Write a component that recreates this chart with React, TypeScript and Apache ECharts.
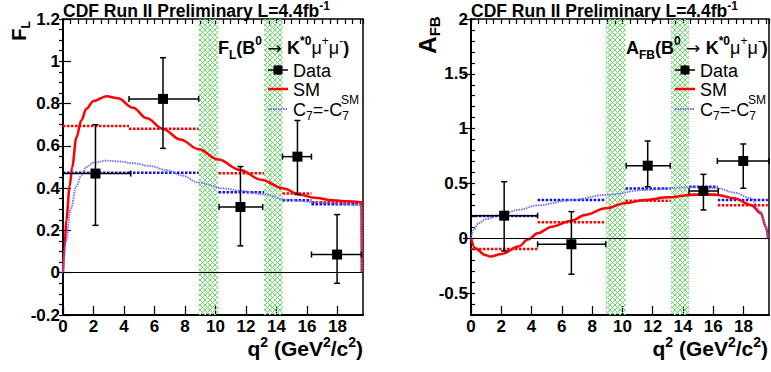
import React, { useEffect, useRef } from 'react';
import * as echarts from 'echarts';

const FONT = '"Liberation Sans", Arial, Helvetica, sans-serif';
const SYM_FONT = '"DejaVu Sans", "Liberation Sans", sans-serif';

// axis ranges
const xRange = [0, 19.68];
const flRange = [-0.2, 1.2];
const afbRange = [-0.7, 2];
const afbMajorTicks = [-0.5, 0, 0.5, 1, 1.5, 2];

// vetoed charmonium regions (hatched)
const vetoLo = [8.9, 13.2];
const vetoHi = [10.2, 14.4];

// ---- F_L panel ----
const flX = [2.13, 6.56, 11.64, 15.38, 17.98];
const flY = [0.469, 0.822, 0.311, 0.549, 0.086];
const flXLo = [0, 4.33, 10.24, 14.4, 16.3];
const flXHi = [4.44, 8.9, 13.1, 16.3, 19.58];
const flYLo = [0.224, 0.588, 0.127, 0.37, -0.05];
const flYHi = [0.7, 1.017, 0.502, 0.72, 0.275];

const flBinLo = [0, 4.33, 10.2, 14.4, 16.3];
const flBinHi = [4.33, 8.9, 13.2, 16.3, 19.6];
const flSmBin = [0.694, 0.681, 0.47, 0.375, 0.333];
const flC7Bin = [0.473, 0.473, 0.381, 0.343, 0.324];

const flSmCurve = [
  [0, 0], [0.1, 0.12], [0.22, 0.25], [0.44, 0.41], [0.6, 0.5], [0.88, 0.64], [1.2, 0.72],
  [1.53, 0.775], [2.0, 0.812], [2.85, 0.835], [3.6, 0.825], [4.6, 0.78], [5.5, 0.73],
  [6.56, 0.68], [7.7, 0.63], [8.9, 0.584], [10.2, 0.535], [11.6, 0.486], [13.0, 0.44],
  [14.47, 0.398], [15.5, 0.37], [16.5, 0.355], [17.7, 0.343], [18.6, 0.338], [19.4, 0.335],
  [19.58, 0.33], [19.6, 0],
];
const flC7Curve = [
  [0, 0], [0.2, 0.15], [0.5, 0.3], [0.88, 0.41], [1.2, 0.46], [1.53, 0.5], [2.0, 0.52],
  [2.85, 0.53], [3.6, 0.527], [4.6, 0.518], [5.7, 0.505], [6.8, 0.485], [7.8, 0.46],
  [8.9, 0.426], [10.6, 0.398], [11.6, 0.388], [13.3, 0.37], [14.5, 0.346], [16.6, 0.333],
  [18.0, 0.327], [19.4, 0.322], [19.58, 0.32], [19.6, 0],
];

// ---- A_FB panel ----
const afbX = [2.19, 6.63, 11.67, 15.35, 17.98];
const afbY = [0.206, -0.055, 0.662, 0.431, 0.705];
const afbXLo = [0, 4.4, 10.25, 14.4, 16.27];
const afbXHi = [4.4, 8.9, 13.16, 16.33, 19.68];
const afbYLo = [-0.116, -0.328, 0.47, 0.258, 0.456];
const afbYHi = [0.516, 0.243, 0.887, 0.583, 0.86];

const afbBinLo = [0, 4.4, 10.2, 14.4, 16.3];
const afbBinHi = [4.4, 8.9, 13.2, 16.3, 19.6];
const afbSmBin = [-0.098, 0.146, 0.343, 0.4, 0.3];
const afbC7Bin = [0.203, 0.349, 0.455, 0.47, 0.349];

const afbSmCurve = [
  [0, 0], [0.28, -0.09], [0.94, -0.152], [1.27, -0.167], [2.04, -0.143], [3.13, -0.076],
  [3.79, -0.01], [4.4, 0.045], [5.33, 0.106], [6.64, 0.16], [7.52, 0.212], [8.9, 0.273],
  [10.15, 0.319], [11.47, 0.349], [13.0, 0.373], [14.54, 0.395], [15.37, 0.398],
  [16.29, 0.395], [17.39, 0.365], [18.49, 0.304], [19.14, 0.228], [19.47, 0.106], [19.62, 0],
];
const afbC7Curve = [
  [0, 0], [0.17, 0.076], [0.5, 0.137], [0.94, 0.173], [2.04, 0.215], [3.13, 0.26], [4.4, 0.3],
  [6.64, 0.349], [8.9, 0.395], [11.47, 0.44], [14.3, 0.465], [16.29, 0.456], [17.39, 0.416],
  [18.49, 0.365], [19.14, 0.243], [19.47, 0.106], [19.62, 0],
];

const RED = '#ff0000';
const BLUE_BIN = '#1010ee';
const BLUE_CURVE = '#6a6aff';
const HATCH = '#66d966';

function hatchItem(params: any, api: any) {
  const a = api.coord([api.value(0), api.value(3)]);
  const b = api.coord([api.value(1), api.value(2)]);
  const x0 = a[0], x1 = b[0], y0 = a[1], y1 = b[1];
  const p = 5;
  const children: any[] = [];
  const style = { stroke: HATCH, lineWidth: 1 };
  for (let c = Math.floor((x0 + y0) / p) * p; c <= x1 + y1; c += p) {
    const xa = Math.max(x0, c - y1), xb = Math.min(x1, c - y0);
    if (xb > xa) children.push({ type: 'line', shape: { x1: xa, y1: c - xa, x2: xb, y2: c - xb }, style });
  }
  for (let d = Math.floor((x0 - y1) / p) * p; d <= x1 - y0; d += p) {
    const xa = Math.max(x0, d + y0), xb = Math.min(x1, d + y1);
    if (xb > xa) children.push({ type: 'line', shape: { x1: xa, y1: xa - d, x2: xb, y2: xb - d }, style });
  }
  return { type: 'group', children };
}

function binItem(color: string) {
  return (params: any, api: any) => {
    const a = api.coord([api.value(0), api.value(2)]);
    const b = api.coord([api.value(1), api.value(2)]);
    return {
      type: 'line',
      shape: { x1: a[0], y1: a[1], x2: b[0], y2: b[1] },
      style: { stroke: color, lineWidth: 2.5, lineDash: [2.5, 1.5] },
    };
  };
}

function errItem(params: any, api: any) {
  const x = api.value(0), y = api.value(1);
  const c = api.coord([x, y]);
  const l = api.coord([api.value(2), y]);
  const r = api.coord([api.value(3), y]);
  const t = api.coord([x, api.value(5)]);
  const bt = api.coord([x, api.value(4)]);
  const st = { stroke: '#000', lineWidth: 1.5 };
  const cap = 3;
  return {
    type: 'group',
    children: [
      { type: 'line', shape: { x1: l[0], y1: c[1], x2: r[0], y2: c[1] }, style: st },
      { type: 'line', shape: { x1: c[0], y1: t[1], x2: c[0], y2: bt[1] }, style: st },
      { type: 'line', shape: { x1: l[0], y1: c[1] - cap, x2: l[0], y2: c[1] + cap }, style: st },
      { type: 'line', shape: { x1: r[0], y1: c[1] - cap, x2: r[0], y2: c[1] + cap }, style: st },
      { type: 'line', shape: { x1: c[0] - cap, y1: t[1], x2: c[0] + cap, y2: t[1] }, style: st },
      { type: 'line', shape: { x1: c[0] - cap, y1: bt[1], x2: c[0] + cap, y2: bt[1] }, style: st },
    ],
  };
}

function xAxis(gi: number, major: boolean) {
  return {
    type: 'value', gridIndex: gi, min: xRange[0], max: xRange[1], interval: major ? 2 : 0.5,
    axisLine: { show: major, onZero: false, lineStyle: { color: '#000', width: 2 } },
    axisTick: { show: true, inside: true, length: major ? 9 : 5, lineStyle: { color: '#000', width: 1.2 } },
    axisLabel: major
      ? { show: true, fontFamily: FONT, fontWeight: 'bold', fontSize: 17, color: '#000', margin: 3, showMaxLabel: false }
      : { show: false },
    splitLine: { show: false },
  };
}

const rangeOf = (r: number[]) => ({ min: r[0], max: r[1] });

function buildOption() {
  const panels = [
    {
      x: flX, y: flY, xlo: flXLo, xhi: flXHi, ylo: flYLo, yhi: flYHi,
      binLo: flBinLo, binHi: flBinHi, sm: flSmBin, c7: flC7Bin,
      smCurve: flSmCurve, c7Curve: flC7Curve, range: flRange, xi: 0, yi: 0,
    },
    {
      x: afbX, y: afbY, xlo: afbXLo, xhi: afbXHi, ylo: afbYLo, yhi: afbYHi,
      binLo: afbBinLo, binHi: afbBinHi, sm: afbSmBin, c7: afbC7Bin,
      smCurve: afbSmCurve, c7Curve: afbC7Curve, range: afbRange, xi: 2, yi: 2,
    },
  ];

  const series: any[] = [];
  panels.forEach((p, pi) => {
    const base = { xAxisIndex: p.xi, yAxisIndex: p.yi };
    series.push({
      ...base, type: 'custom', name: 'veto' + pi, z: 1, silent: true,
      renderItem: hatchItem,
      data: vetoLo.map((lo, i) => [lo, vetoHi[i], p.range[0], p.range[1]]),
      markLine: {
        silent: true, symbol: 'none', label: { show: false },
        lineStyle: { color: '#000', width: 1.2, type: 'solid' },
        data: [{ yAxis: 0 }],
      },
    });
    series.push({
      ...base, type: 'custom', name: 'smBin' + pi, z: 3, silent: true, renderItem: binItem(RED),
      data: p.binLo.map((lo, i) => [lo, p.binHi[i], p.sm[i]]),
    });
    series.push({
      ...base, type: 'custom', name: 'c7Bin' + pi, z: 3, silent: true, renderItem: binItem(BLUE_BIN),
      data: p.binLo.map((lo, i) => [lo, p.binHi[i], p.c7[i]]),
    });
    series.push({
      ...base, type: 'line', name: 'SM' + pi, z: 4, showSymbol: false, smooth: 0.35, smoothMonotone: 'x',
      lineStyle: { color: RED, width: 2.5 }, data: p.smCurve,
    });
    series.push({
      ...base, type: 'line', name: 'C7' + pi, z: 4, showSymbol: false, smooth: 0.35, smoothMonotone: 'x',
      lineStyle: { color: BLUE_CURVE, width: 1.8, type: [1.5, 1] }, data: p.c7Curve,
    });
    series.push({
      ...base, type: 'custom', name: 'err' + pi, z: 5, silent: true, renderItem: errItem,
      data: p.x.map((x, i) => [x, p.y[i], p.xlo[i], p.xhi[i], p.ylo[i], p.yhi[i]]),
    });
    series.push({
      ...base, type: 'scatter', name: 'Data' + pi, z: 6, symbol: 'rect', symbolSize: 10,
      itemStyle: { color: '#000', opacity: 1 }, data: p.x.map((x, i) => [x, p.y[i]]),
    });
  });

  const tb = { fontFamily: FONT, fontWeight: 'bold', fill: '#000' };
  const tn = { fontFamily: FONT, fontWeight: 'normal', fill: '#000' };

  const topTitle = (x: number) => ({
    type: 'text', x, y: 11, z: 100,
    style: {
      text: '{m|CDF Run II Preliminary L=4.4fb}{p|-1}',
      align: 'left', verticalAlign: 'middle',
      rich: {
        m: { ...tb, fontSize: 17.5, lineHeight: 22 },
        p: { ...tb, fontSize: 12, lineHeight: 14, verticalAlign: 'top' },
      },
    },
  });

  const procRich = {
    b: { ...tb, fontSize: 18, lineHeight: 26 },
    s: { ...tn, fontSize: 18, lineHeight: 26 },
    ar: { fontFamily: SYM_FONT, fontWeight: 'normal', fill: '#000', fontSize: 17, lineHeight: 26 },
    bp: { ...tb, fontSize: 12, lineHeight: 14, verticalAlign: 'top' },
    sp: { ...tn, fontSize: 12, lineHeight: 14, verticalAlign: 'top' },
    bs: { ...tb, fontSize: 12, lineHeight: 8, verticalAlign: 'bottom' },
  };
  const proc = (x: number, name: string) => ({
    type: 'text', x, y: 48, z: 100,
    style: {
      text: name + '{b|(B}{bp|0}{ar| → }{b|K}{bp|*0}{s|μ}{sp|+}{s|μ}{sp|-}{b|)}',
      align: 'left', verticalAlign: 'middle', rich: procRich,
    },
  });

  const legend = (x0: number) => {
    const xm = x0 + 10;
    const tx = x0 + 25;
    return [
      { type: 'line', z: 100, shape: { x1: x0, y1: 70, x2: x0 + 20, y2: 70 }, style: { stroke: '#000', lineWidth: 1.5 } },
      { type: 'line', z: 100, shape: { x1: xm, y1: 65, x2: xm, y2: 75 }, style: { stroke: '#000', lineWidth: 1.5 } },
      { type: 'rect', z: 100, shape: { x: xm - 4.5, y: 65.5, width: 9, height: 9 }, style: { fill: '#000' } },
      { type: 'text', z: 100, x: tx, y: 71, style: { text: 'Data', ...tn, fontSize: 18, align: 'left', verticalAlign: 'middle' } },
      { type: 'line', z: 100, shape: { x1: x0, y1: 89, x2: x0 + 20, y2: 89 }, style: { stroke: RED, lineWidth: 2.5 } },
      { type: 'text', z: 100, x: tx, y: 90, style: { text: 'SM', ...tn, fontSize: 18, align: 'left', verticalAlign: 'middle' } },
      { type: 'line', z: 100, shape: { x1: x0, y1: 109, x2: x0 + 20, y2: 109 }, style: { stroke: BLUE_CURVE, lineWidth: 2, lineDash: [1.5, 1] } },
      {
        type: 'text', z: 100, x: tx, y: 110,
        style: {
          text: '{n|C}{d|7}{n|=-C}{d|7}', align: 'left', verticalAlign: 'middle',
          rich: {
            n: { ...tn, fontSize: 18, lineHeight: 24 },
            d: { ...tn, fontSize: 12, lineHeight: 8, verticalAlign: 'bottom' },
          },
        },
      },
    ];
  };

  const yTitle = (x: number, y: number, main: string, sub: string, size: number) => ({
    type: 'text', x, y, z: 100, rotation: Math.PI / 2,
    style: {
      text: '{a|' + main + '}{b|' + sub + '}', align: 'center', verticalAlign: 'middle',
      rich: {
        a: { ...tb, fontSize: size, lineHeight: size + 6 },
        b: { ...tb, fontSize: Math.round(size * 0.62), lineHeight: 8, verticalAlign: 'bottom' },
      },
    },
  });

  const xTitle = (x: number) => ({
    type: 'text', x, y: 348, z: 100,
    style: {
      text: '{a|q}{p|2}{a| (GeV}{p|2}{a|/c}{p|2}{a|)}', align: 'right', verticalAlign: 'middle',
      rich: {
        a: { ...tb, fontSize: 21, lineHeight: 26 },
        p: { ...tb, fontSize: 14, lineHeight: 15, verticalAlign: 'top' },
      },
    },
  });

  const smSup = (x: number) => ({
    type: 'text', x, y: 100, z: 100,
    style: { text: 'SM', ...tn, fontSize: 12, align: 'left', verticalAlign: 'middle' },
  });

  return {
    animation: false,
    backgroundColor: '#fff',
    grid: [
      { left: 63, top: 19, width: 300, height: 296, show: true, borderColor: '#000', borderWidth: 1.5, backgroundColor: 'transparent' },
      { left: 471, top: 19, width: 298, height: 296, show: true, borderColor: '#000', borderWidth: 1.5, backgroundColor: 'transparent' },
    ],
    xAxis: [xAxis(0, true), xAxis(0, false), xAxis(1, true), xAxis(1, false)],
    yAxis: [
      {
        type: 'value', gridIndex: 0, ...rangeOf(flRange), interval: 0.2,
        axisLine: { show: true, onZero: false, lineStyle: { color: '#000', width: 2 } },
        axisTick: { show: true, inside: true, length: 8, lineStyle: { color: '#000', width: 1.2 } },
        axisLabel: { show: true, fontFamily: FONT, fontWeight: 'bold', fontSize: 17, color: '#000', margin: 3 },
        splitLine: { show: false },
      },
      {
        type: 'value', gridIndex: 0, ...rangeOf(flRange), interval: 0.05,
        axisLine: { show: false },
        axisTick: { show: true, inside: true, length: 4, lineStyle: { color: '#000', width: 1.2 } },
        axisLabel: { show: false }, splitLine: { show: false },
      },
      {
        type: 'value', gridIndex: 1, ...rangeOf(afbRange), interval: 0.1,
        axisLine: { show: true, onZero: false, lineStyle: { color: '#000', width: 2 } },
        axisTick: { show: true, inside: true, length: 4, lineStyle: { color: '#000', width: 1.2 } },
        axisLabel: {
          show: true, fontFamily: FONT, fontWeight: 'bold', fontSize: 17, color: '#000', margin: 3,
          formatter: (v: number) => {
            const r = Math.round(v * 10) / 10;
            return afbMajorTicks.some((m) => Math.abs(m - r) < 1e-9) ? String(r) : '';
          },
        },
        splitLine: { show: false },
      },
      {
        type: 'value', gridIndex: 1, ...rangeOf(afbRange),
        axisLine: { show: false },
        axisTick: { show: true, inside: true, length: 8, customValues: afbMajorTicks, lineStyle: { color: '#000', width: 1.2 } },
        axisLabel: { show: false }, splitLine: { show: false },
      },
    ],
    series,
    graphic: [
      topTitle(63),
      topTitle(471),
      yTitle(19, 31, 'F', 'L', 20),
      yTitle(427, 35, 'A', 'FB', 24),
      proc(218, '{b|F}{bs|L}'),
      proc(626, '{b|A}{bs|FB}'),
      ...legend(268),
      ...legend(675),
      smSup(341),
      smSup(748),
      xTitle(363),
      xTitle(768),
    ],
  };
}

export default function App() {
  const ref = useRef<HTMLDivElement>(null);
  useEffect(() => {
    document.body.style.margin = '0';
    const chart = echarts.init(ref.current!, null, { renderer: 'svg' });
    chart.setOption(buildOption() as any);
    return () => chart.dispose();
  }, []);
  return (
    <div
      ref={ref}
      style={{ width: 771, height: 372, position: 'absolute', left: 0, top: 0, background: '#fff' }}
    />
  );
}
